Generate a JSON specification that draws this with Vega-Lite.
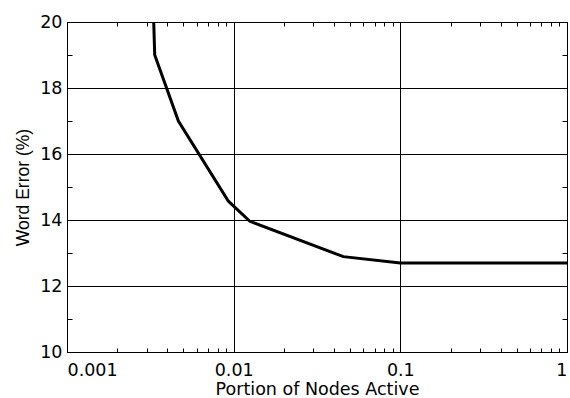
{
  "$schema": "https://vega.github.io/schema/vega-lite/v6.json",
  "width": 500,
  "height": 330,
  "autosize": "none",
  "padding": {"left": 67, "top": 22, "right": 3, "bottom": 46},
  "background": "white",
  "config": {
    "font": "DejaVu Sans",
    "view": {"stroke": "black", "strokeWidth": 1},
    "axis": {
      "domainColor": "black",
      "tickColor": "black",
      "gridColor": "black",
      "gridWidth": 1,
      "labelColor": "black",
      "titleColor": "black",
      "labelFont": "DejaVu Sans",
      "titleFont": "DejaVu Sans",
      "labelFontSize": 17.5,
      "titleFontSize": 17.5,
      "titleFontWeight": "normal",
      "labelOverlap": false
    }
  },
  "data": {
    "values": [
      {"x": 0.0033, "y": 20.3},
      {"x": 0.00336, "y": 19.0},
      {"x": 0.00466, "y": 17.0},
      {"x": 0.0093, "y": 14.57},
      {"x": 0.0125, "y": 13.96},
      {"x": 0.0455, "y": 12.89},
      {"x": 0.1, "y": 12.7},
      {"x": 1, "y": 12.7}
    ]
  },
  "resolve": {"axis": {"x": "independent", "y": "independent"}},
  "layer": [
    {
      "mark": {"type": "line", "color": "black", "strokeWidth": 3, "clip": true},
      "encoding": {
        "x": {
          "field": "x", "type": "quantitative",
          "scale": {"type": "log", "domain": [0.001, 1], "nice": false},
          "axis": {
            "orient": "bottom",
            "title": "Portion of Nodes Active",
            "titleX": 250,
            "titleY": 42,
            "titleAlign": "center",
            "titleBaseline": "alphabetic",
            "values": [0.001,0.002,0.003,0.004,0.005,0.006,0.007,0.008,0.009,0.01,0.02,0.03,0.04,0.05,0.06,0.07,0.08,0.09,0.1,0.2,0.3,0.4,0.5,0.6,0.7,0.8,0.9,1],
            "format": "~g",
            "labelExpr": "abs(log(datum.value)/LN10 - round(log(datum.value)/LN10)) < 1e-6 ? datum.label : ''",
            "tickSize": -4,
            "labelPadding": 13,
            "grid": true,
            "gridOpacity": {"condition": {"test": "abs(log(datum.value)/LN10 - round(log(datum.value)/LN10)) < 1e-6", "value": 1}, "value": 0}
          }
        },
        "y": {
          "field": "y", "type": "quantitative",
          "scale": {"domain": [10, 20], "nice": false},
          "axis": {
            "orient": "left",
            "title": "Word Error (%)",
            "titleFont": "Liberation Sans",
            "titleFontSize": 17.5,
            "titleX": -39,
            "titleY": 165,
            "titleAngle": 270,
            "titleAlign": "center",
            "titleBaseline": "alphabetic",
            "values": [10,11,12,13,14,15,16,17,18,19,20],
            "labelExpr": "datum.value % 2 == 0 ? datum.label : ''",
            "tickSize": -5,
            "labelPadding": 10,
            "grid": true,
            "gridOpacity": {"condition": {"test": "datum.value % 2 == 0", "value": 1}, "value": 0}
          }
        }
      }
    },
    {
      "mark": {"type": "line", "strokeOpacity": 0},
      "encoding": {
        "x": {
          "field": "x", "type": "quantitative",
          "scale": {"type": "log", "domain": [0.001, 1], "nice": false},
          "axis": {
            "orient": "top", "title": null, "labels": false, "grid": false,
            "values": [0.002,0.003,0.004,0.005,0.006,0.007,0.008,0.009,0.02,0.03,0.04,0.05,0.06,0.07,0.08,0.09,0.2,0.3,0.4,0.5,0.6,0.7,0.8,0.9],
            "tickSize": -4
          }
        },
        "y": {
          "field": "y", "type": "quantitative",
          "scale": {"domain": [10, 20], "nice": false},
          "axis": {
            "orient": "right", "title": null, "labels": false, "grid": false,
            "values": [11,13,15,17,19],
            "tickSize": -5
          }
        }
      }
    }
  ]
}
